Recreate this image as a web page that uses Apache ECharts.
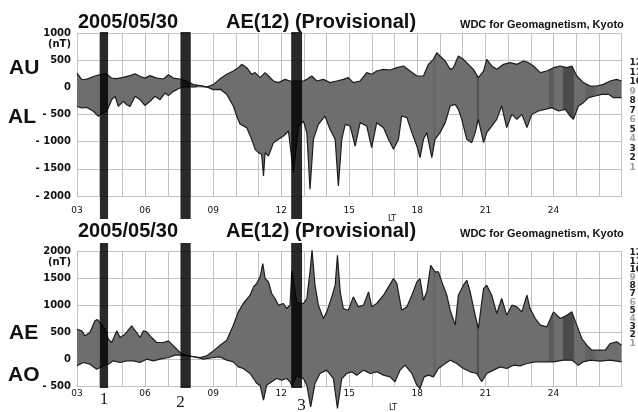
<!DOCTYPE html>
<html>
<head>
<meta charset="utf-8">
<script src="https://cdn.jsdelivr.net/npm/echarts@6/dist/echarts.min.js"></script>
<style>
  html, body { margin: 0; padding: 0; background: #ffffff; }
  #chart { width: 638px; height: 412px; }
</style>
</head>
<body>
<div id="chart"></div>
<script>
// AE(12) provisional indices for 2005/05/30, as [local time in hours, nT]
const auData = [
  [3.00, 260], [3.21, 140], [3.43, 150], [3.50, 170], [3.72, 200], [4.02, 233], [4.30, 250], [4.53, 170],
  [4.75, 160], [5.04, 184], [5.34, 215], [5.56, 250], [5.78, 200], [6.00, 170], [6.22, 215], [6.51, 170],
  [6.81, 153], [7.03, 233], [7.25, 170], [7.54, 153], [7.84, 110], [8.13, 50], [8.43, 30], [8.72, 5],
  [9.01, 50], [9.31, 160], [9.60, 240], [9.89, 300], [10.11, 362], [10.26, 423], [10.48, 362], [10.70, 240],
  [10.85, 270], [11.07, 178], [11.29, 270], [11.44, 209], [11.66, 117], [11.88, 86], [12.17, 147], [12.39, 117],
  [12.98, 117], [13.13, 147], [13.35, 209], [13.57, 117], [13.86, 147], [14.15, 86], [14.45, 117], [14.74, 147],
  [14.96, 178], [15.18, 86], [15.48, 117], [15.77, 270], [15.99, 240], [16.21, 300], [16.51, 331], [16.80, 319],
  [17.10, 362], [17.39, 393], [17.68, 300], [17.98, 209], [18.27, 209], [18.49, 423], [18.71, 515], [18.86, 638],
  [19.00, 577], [19.23, 485], [19.45, 331], [19.59, 362], [19.81, 577], [20.03, 515], [20.25, 423], [20.47, 331],
  [20.69, 178], [20.92, 300], [21.06, 515], [21.28, 393], [21.50, 331], [21.80, 423], [22.09, 454], [22.39, 423],
  [22.68, 485], [22.90, 454], [23.12, 393], [23.42, 270], [23.71, 300], [24.00, 362], [24.30, 393], [24.59, 362],
  [24.81, 393], [25.03, 209], [25.32, 86], [25.62, 25], [25.91, 25], [26.20, 55], [26.50, 117], [26.79, 147],
  [27.00, 117]
];
const alData = [
  [3.00, -350], [3.21, -380], [3.43, -370], [3.72, -440], [3.94, -533], [4.09, -480], [4.31, -440], [4.53, -227],
  [4.68, -165], [4.82, -350], [5.04, -257], [5.19, -320], [5.34, -350], [5.56, -165], [5.78, -227], [6.00, -337],
  [6.22, -257], [6.44, -165], [6.66, -227], [6.88, -104], [7.03, -153], [7.25, -74], [7.54, -12], [7.84, 18],
  [8.13, 6], [8.43, 30], [8.72, 6], [9.01, -43], [9.31, -37], [9.60, -129], [9.89, -344], [10.04, -528],
  [10.19, -681], [10.48, -742], [10.70, -957], [10.85, -1141], [11.00, -1202], [11.14, -1233], [11.22, -1632], [11.29, -1202],
  [11.44, -1264], [11.66, -1018], [11.88, -957], [12.10, -896], [12.32, -804], [12.54, -1575], [12.76, -717], [12.98, -620],
  [13.13, -834], [13.27, -1877], [13.42, -957], [13.64, -681], [13.93, -528], [14.15, -773], [14.38, -957], [14.52, -1816],
  [14.67, -957], [14.82, -681], [15.04, -712], [15.26, -1080], [15.48, -650], [15.77, -712], [15.99, -1110], [16.21, -650],
  [16.51, -742], [16.73, -957], [16.95, -1141], [17.17, -957], [17.31, -528], [17.54, -558], [17.76, -834], [17.98, -1080],
  [18.12, -1294], [18.27, -957], [18.42, -834], [18.64, -1294], [18.78, -957], [19.00, -834], [19.23, -650], [19.45, -344],
  [19.67, -313], [19.81, -405], [19.96, -589], [20.18, -957], [20.40, -1018], [20.55, -834], [20.69, -589], [20.92, -1018],
  [21.06, -834], [21.28, -712], [21.50, -589], [21.72, -344], [21.94, -742], [22.17, -497], [22.39, -589], [22.61, -497],
  [22.83, -742], [23.05, -497], [23.34, -436], [23.63, -405], [23.93, -374], [24.22, -436], [24.52, -405], [24.74, -528],
  [24.88, -589], [25.10, -344], [25.32, -282], [25.55, -190], [25.84, -160], [26.13, -129], [26.43, -129], [26.65, -190],
  [27.00, -190]
];
const aeData = [
  [3.00, 561], [3.21, 530], [3.35, 438], [3.57, 500], [3.79, 716], [3.90, 740], [4.01, 685], [4.24, 561],
  [4.38, 376], [4.53, 315], [4.75, 530], [4.90, 407], [5.12, 469], [5.41, 623], [5.63, 500], [5.78, 407],
  [5.93, 530], [6.07, 512], [6.29, 407], [6.51, 315], [6.81, 315], [7.03, 345], [7.25, 253], [7.54, 130],
  [7.84, 68], [8.13, 56], [8.43, 37], [8.72, 68], [9.01, 160], [9.31, 265], [9.60, 358], [9.89, 636],
  [10.11, 882], [10.33, 1037], [10.63, 1191], [10.78, 1345], [10.92, 1407], [11.07, 1530], [11.19, 1777], [11.29, 1499],
  [11.44, 1438], [11.58, 1222], [11.73, 1129], [11.88, 1006], [12.10, 1037], [12.24, 944], [12.39, 1006], [12.47, 1641],
  [12.69, 1055], [12.98, 1037], [13.13, 1129], [13.27, 1623], [13.36, 2024], [13.49, 1376], [13.64, 1006], [13.86, 759],
  [14.01, 882], [14.23, 1160], [14.38, 1376], [14.48, 1931], [14.60, 1253], [14.74, 944], [14.96, 913], [15.18, 1160],
  [15.40, 975], [15.63, 1006], [15.85, 1253], [15.99, 975], [16.21, 1037], [16.51, 1191], [16.73, 1345], [16.95, 1499],
  [17.10, 1407], [17.31, 913], [17.54, 975], [17.76, 1191], [17.98, 1438], [18.12, 1499], [18.27, 1098], [18.42, 1253],
  [18.59, 1746], [18.78, 1623], [18.93, 1623], [19.08, 1438], [19.30, 1191], [19.45, 913], [19.67, 636], [19.81, 1191],
  [20.03, 1376], [20.18, 1468], [20.33, 1253], [20.55, 821], [20.69, 574], [20.92, 1314], [21.06, 1376], [21.28, 1191],
  [21.50, 851], [21.72, 1129], [21.94, 821], [22.17, 1006], [22.39, 975], [22.61, 882], [22.83, 1191], [22.97, 944],
  [23.20, 759], [23.42, 636], [23.71, 605], [24.00, 882], [24.30, 759], [24.59, 821], [24.81, 882], [25.03, 636],
  [25.25, 389], [25.47, 265], [25.69, 173], [25.99, 173], [26.28, 173], [26.50, 296], [26.79, 327], [27.00, 265]
];
const aoData = [
  [3.00, -117], [3.28, -56], [3.57, -86], [3.87, -179], [4.16, -117], [4.38, -86], [4.60, -25], [4.90, -56],
  [5.19, -25], [5.49, -25], [5.78, -56], [6.07, 6], [6.37, -25], [6.66, 6], [7.03, 37], [7.32, 80],
  [7.62, 80], [7.91, 68], [8.28, 37], [8.57, 6], [9.01, 37], [9.31, 49], [9.60, -12], [9.89, -43],
  [10.11, -136], [10.33, -167], [10.63, -259], [10.78, -352], [10.92, -444], [11.07, -475], [11.22, -753], [11.36, -475],
  [11.58, -413], [11.80, -352], [12.02, -383], [12.24, -352], [12.39, -413], [12.47, -487], [12.69, -302], [12.98, -352],
  [13.13, -475], [13.30, -876], [13.49, -444], [13.71, -259], [14.01, -197], [14.30, -352], [14.48, -907], [14.67, -352],
  [14.89, -259], [15.11, -228], [15.33, -290], [15.63, -197], [15.92, -259], [16.21, -228], [16.51, -290], [16.80, -321],
  [17.02, -413], [17.24, -197], [17.46, -105], [17.76, -259], [17.98, -475], [18.12, -537], [18.30, -321], [18.49, -290],
  [18.71, -321], [18.93, -167], [19.23, -74], [19.45, -12], [19.74, -74], [20.03, -167], [20.33, -228], [20.62, -259],
  [20.84, -413], [21.06, -259], [21.36, -197], [21.65, -136], [21.94, -167], [22.24, -105], [22.53, -117], [22.83, -74],
  [23.20, -43], [23.56, -43], [24.00, -43], [24.44, -12], [24.81, -12], [25.10, -105], [25.32, -43], [25.62, -12],
  [26.06, -31], [26.50, -12], [27.00, -43]
];

// Marked intervals (LT hours) shown as dark vertical bands across both panels
const eventNames = ['1', '2', '3'];
const eventStart = [4.01, 7.56, 12.44];
const eventEnd = [4.37, 8.01, 12.92];

// Stretches of the record where the band is drawn in a darker grey (LT hours)
const shadeStart = [18.72, 20.62, 23.80, 24.42, 25.40];
const shadeEnd = [18.80, 20.72, 24.00, 24.90, 25.85];

// Neighbouring scale labels peeking in at the right edge
const edgeLabels = ['12', '11', '10', '9', '8', '7', '6', '5', '4', '3', '2', '1'];

// ---- styling ----
const FILL = '#6e6e6e';
const SHADE_TONES = ['#626262', '#555555', '#595959', '#4b4b4b', '#636363'];
const CURVE = '#1c1c1c';
const GRID_LINE = '#c2c2c2';
const SANS_BOLD = 'bold 10px "DejaVu Sans"';
const EDGE_FONT = 'bold 9px "DejaVu Sans"';
const TITLE_FONT = 'bold 20px "Liberation Sans"';
const SIDE_FONT = 'bold 21px "Liberation Sans"';
const PLOT_LEFT = 77, PLOT_RIGHT = 16.5;

function signed(v) { return v < 0 ? '- ' + (-v) : String(v); }
function hourLabel(v) { return (v % 3 === 0 && v < 27) ? String(v).padStart(2, '0') : ''; }

function timeAxis(gridIndex, margin) {
  return {
    type: 'value', gridIndex: gridIndex, min: 3, max: 27, interval: 1,
    axisLine: { show: true, lineStyle: { color: GRID_LINE, width: 1 } },
    axisTick: { show: false },
    splitLine: { show: true, lineStyle: { color: GRID_LINE, width: 1 } },
    axisLabel: {
      formatter: hourLabel, margin: margin, showMaxLabel: false,
      fontFamily: 'DejaVu Sans', fontSize: 9, color: '#111'
    }
  };
}
function valueAxis(gridIndex, min, max) {
  return {
    type: 'value', gridIndex: gridIndex, min: min, max: max, interval: 500,
    axisLine: { show: true, lineStyle: { color: GRID_LINE, width: 1 } },
    axisTick: { show: false },
    splitLine: { show: true, lineStyle: { color: GRID_LINE, width: 1 } },
    axisLabel: {
      formatter: signed, margin: 6,
      fontFamily: 'DejaVu Sans', fontWeight: 'bold', fontSize: 10, color: '#111'
    }
  };
}
function hiddenX(gridIndex) { return { type: 'value', gridIndex: gridIndex, min: 3, max: 27, show: false }; }
function hiddenY(gridIndex) { return { type: 'value', gridIndex: gridIndex, min: 0, max: 1, show: false }; }

// Value of a polyline at hour x (used to cut the band at shade edges)
function valueAt(curve, x) {
  for (let i = 0; i < curve.length - 1; i++) {
    const p = curve[i], q = curve[i + 1];
    if (x >= p[0] && x <= q[0]) return p[1] + (q[1] - p[1]) * (x - p[0]) / (q[0] - p[0]);
  }
  return curve[curve.length - 1][1];
}
function piece(curve, a, b) {
  return [[a, valueAt(curve, a)]]
    .concat(curve.filter(function (p) { return p[0] > a && p[0] < b; }))
    .concat([[b, valueAt(curve, b)]]);
}

// Grey band between an upper and a lower index curve, with darker stretches
function band(upper, lower, axisIndex) {
  return {
    type: 'custom', xAxisIndex: axisIndex, yAxisIndex: axisIndex, z: 1, silent: true, clip: false,
    data: [[15, 0]],
    renderItem: function (params, api) {
      function outline(up, low) {
        return up.map(function (p) { return api.coord(p); })
          .concat(low.slice().reverse().map(function (p) { return api.coord(p); }));
      }
      const children = [{ type: 'polygon', shape: { points: outline(upper, lower) }, style: { fill: FILL } }];
      shadeStart.forEach(function (a, i) {
        const b = shadeEnd[i];
        children.push({
          type: 'polygon',
          shape: { points: outline(piece(upper, a, b), piece(lower, a, b)) },
          style: { fill: SHADE_TONES[i] }
        });
      });
      return { type: 'group', children: children };
    }
  };
}
function curve(name, data, axisIndex) {
  return {
    type: 'line', name: name, data: data, xAxisIndex: axisIndex, yAxisIndex: axisIndex,
    symbol: 'none', z: 2, silent: true, clip: false,
    lineStyle: { color: CURVE, width: 1.2 }
  };
}

// Bars for the marked intervals; the lower panel also carries their numbers
const numberNudge = [[0, 0], [-5, 3], [5, 6]];
function eventBars(axisIndex, withNumbers) {
  return {
    type: 'custom', xAxisIndex: axisIndex, yAxisIndex: axisIndex, z: 10, silent: true,
    data: eventNames.map(function (n, i) { return [eventStart[i], eventEnd[i], i]; }),
    renderItem: function (params, api) {
      const a = api.coord([api.value(0), 1]);
      const b = api.coord([api.value(1), 0]);
      const children = [{
        type: 'rect',
        shape: { x: a[0], y: a[1], width: b[0] - a[0], height: b[1] - a[1] },
        style: { fill: 'rgba(0,0,0,0.84)' }
      }];
      if (withNumbers) {
        const i = api.value(2);
        children.push({
          type: 'text',
          style: {
            text: eventNames[i], x: (a[0] + b[0]) / 2 + numberNudge[i][0], y: b[1] + 12 + numberNudge[i][1],
            font: '17px "Liberation Serif"', fill: '#1a1a1a',
            textAlign: 'center', textVerticalAlign: 'middle', align: 'center', verticalAlign: 'middle'
          }
        });
      }
      return { type: 'group', children: children };
    }
  };
}

function label(text, x, y, font, align, fill) {
  return {
    type: 'text', z: 20, silent: true,
    style: {
      text: text, x: x, y: y, font: font, fill: fill || '#111',
      textAlign: align || 'left', textVerticalAlign: 'middle',
      align: align || 'left', verticalAlign: 'middle'
    }
  };
}

const graphics = [];
[0, 209].forEach(function (dy) {
  graphics.push(label('2005/05/30', 78, 22.5 + dy, TITLE_FONT));
  graphics.push(label('AE(12) (Provisional)', 226, 22.5 + dy, TITLE_FONT));
  graphics.push(label('WDC for Geomagnetism, Kyoto', 460, 24.5 + dy, 'bold 11px "Liberation Sans"'));
});
graphics.push(label('(nT)', 71, 44, SANS_BOLD, 'right'));
graphics.push(label('(nT)', 71, 262.5, SANS_BOLD, 'right'));
graphics.push(label('AU', 9, 68, SIDE_FONT));
graphics.push(label('AL', 8, 117.5, SIDE_FONT));
graphics.push(label('AE', 9, 333.5, SIDE_FONT));
graphics.push(label('AO', 8, 375, SIDE_FONT));
graphics.push(label('LT', 392, 219, '8px "DejaVu Sans"', 'center'));
graphics.push(label('LT', 393, 408, '8px "DejaVu Sans"', 'center'));
edgeLabels.forEach(function (t, i) {
  const fill = (i === 3 || i === 6 || i === 8 || i === 11) ? '#a0a0a0' : '#222';
  graphics.push(label(t, 629.5, 63 + i * 9.5, EDGE_FONT, 'left', fill));
  graphics.push(label(t, 629.5, 253 + i * 8.2, EDGE_FONT, 'left', fill));
});

const chart = echarts.init(document.getElementById('chart'), null, { renderer: 'canvas' });
chart.setOption({
  animation: false,
  backgroundColor: '#ffffff',
  grid: [
    { left: PLOT_LEFT, right: PLOT_RIGHT, top: 33, height: 163 },
    { left: PLOT_LEFT, right: PLOT_RIGHT, top: 251.5, height: 135 },
    { left: PLOT_LEFT, right: PLOT_RIGHT, top: 32, height: 187 },
    { left: PLOT_LEFT, right: PLOT_RIGHT, top: 243, height: 145 }
  ],
  xAxis: [timeAxis(0, 10), timeAxis(1, 3), hiddenX(2), hiddenX(3)],
  yAxis: [valueAxis(0, -2000, 1000), valueAxis(1, -500, 2000), hiddenY(2), hiddenY(3)],
  series: [
    band(auData, alData, 0),
    curve('AU', auData, 0),
    curve('AL', alData, 0),
    band(aeData, aoData, 1),
    curve('AE', aeData, 1),
    curve('AO', aoData, 1),
    eventBars(2, false),
    eventBars(3, true)
  ],
  graphic: graphics
});
</script>
</body>
</html>
